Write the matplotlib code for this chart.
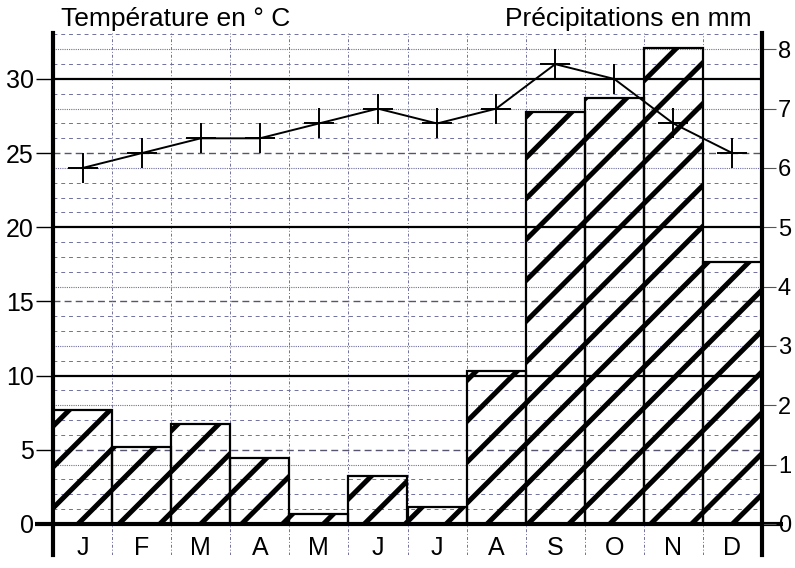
import matplotlib
matplotlib.use("Agg")
import matplotlib.pyplot as plt
import numpy as np
from matplotlib.collections import LineCollection

plt.rcParams['font.family'] = ['Liberation Sans', 'DejaVu Sans']

months = ["J", "F", "M", "A", "M", "J", "J", "A", "S", "O", "N", "D"]
temperature = [24, 25, 26, 26, 27, 28, 27, 28, 31, 30, 27, 25]
# precipitation in right-axis units
precip = [1.92, 1.30, 1.69, 1.11, 0.17, 0.81, 0.29, 2.58, 6.95, 7.18, 8.02, 4.42]
left_ticks = [0, 5, 10, 15, 20, 25, 30]
right_ticks = [0, 1, 2, 3, 4, 5, 6, 7, 8]
right_labels = ["0", "1", "2", "3", "4", "5", "6", "7", "8"]

W, H = 795, 568
fig = plt.figure(figsize=(W / 100, H / 100), dpi=100)
ax_l, ax_r, ax_b, ax_t = 53, 762, 555, 33
ax = fig.add_axes([ax_l / W, 1 - ax_b / H, (ax_r - ax_l) / W, (ax_b - ax_t) / H])
ymin, ymax = -2.09, 33.1
ax.set_xlim(0, 12)
ax.set_ylim(ymin, ymax)

grid_c = '#7070a0'
for v in range(1, 34):
    if v % 10 == 0:
        continue
    if v % 4 == 0:
        ax.axhline(v, color=grid_c, lw=0.8, ls=(0, (1, 1)), zorder=1)
    elif v % 5 == 0:
        ax.axhline(v, color='#555570', lw=1.0, ls=(0, (5, 3)), zorder=1)
    else:
        ax.axhline(v, color=grid_c, lw=0.7, ls=(0, (4, 4)), zorder=1)
for v in [10, 20, 30]:
    ax.axhline(v, color='black', lw=1.6, zorder=2)
for i in range(1, 12):
    ax.axvline(i, color=grid_c, lw=0.7, ls=(0, (3, 2, 1, 2)), zorder=1)

# bars (precip, scaled to temperature axis: 1 unit = 4 degrees)
x = np.arange(12) + 0.5
heights = [p * 4 for p in precip]
bars = ax.bar(x, heights, width=1.0, facecolor='none', edgecolor='black',
              linewidth=1.6, zorder=3)

# coarse hatching clipped to bars
Wp, Hp = ax_r - ax_l, ax_b - ax_t
base_from_bottom = ax_b - 524
segs = []
for k in range(-20, 40):
    x0 = 25 + k * 40.9
    xa = x0 - base_from_bottom
    segs.append([(xa / Wp, 0), ((xa + Hp) / Wp, 1)])
for b in bars:
    lc = LineCollection(segs, colors='black', linewidths=3.6, transform=ax.transAxes,
                        zorder=3, capstyle='butt')
    ax.add_collection(lc)
    lc.set_clip_path(b)

# temperature line
ax.plot(x, temperature, color='black', lw=1.4, marker='+', markersize=22,
        markeredgewidth=1.4, zorder=5)

# zero axis line
ax.plot([-0.3, 12.35], [0, 0], color='black', lw=3, zorder=6, clip_on=False,
        solid_capstyle='butt')

for s in ['top', 'bottom', 'right']:
    ax.spines[s].set_visible(False)
ax.spines['left'].set_linewidth(3)
ax.spines['left'].set_zorder(7)

ax.set_yticks(left_ticks)
ax.set_yticklabels([str(t) for t in left_ticks], fontsize=18)
ax.tick_params(axis='y', length=12, width=1.0, pad=2, direction='out')
ax.set_xticks([])

for xi, m in zip(x, months):
    ax.text(xi, -1.65, m, ha='center', va='center', fontsize=18)

# right axis
ax2 = ax.twinx()
ax2.set_ylim(ymin / 4, ymax / 4)
for s in ['top', 'bottom', 'left']:
    ax2.spines[s].set_visible(False)
ax2.spines['right'].set_linewidth(3)
ax2.set_yticks(right_ticks)
ax2.set_yticklabels(right_labels, fontsize=17)
ax2.tick_params(axis='y', length=10, width=0.8, color='#555', pad=1.5)

fig.text(61 / W, 1 - 19 / H, "Température en ° C", ha='left', va='center', fontsize=19)
fig.text(752 / W, 1 - 19 / H, "Précipitations en mm", ha='right', va='center', fontsize=19)

fig.savefig("out.png", dpi=100)
